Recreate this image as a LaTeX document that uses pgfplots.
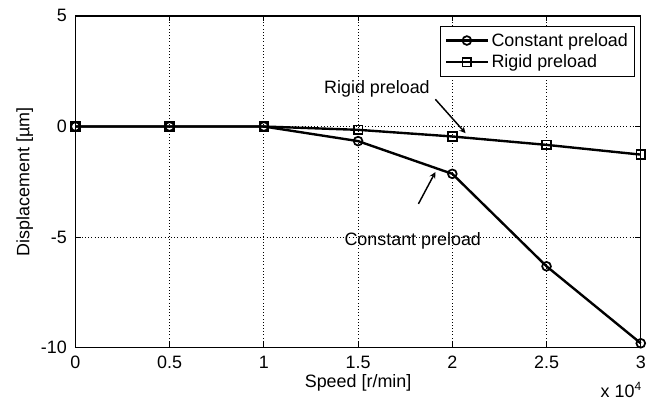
\documentclass[border=0pt]{standalone}
\usepackage{fontspec}
\setmainfont{Liberation Sans}
\usepackage{pgfplots}
\pgfplotsset{compat=1.18}

\begin{document}
\begin{tikzpicture}
\begin{axis}[
    width=426pt, height=250pt,
    scale only axis,
    xmin=0, xmax=3, ymin=-10, ymax=5,
    xtick={0,0.5,1,1.5,2,2.5,3},
    xticklabels={0,0.5,1,1.5,2,2.5,3},
    ytick={-10,-5,0,5},
    grid=major,
    grid style={black, dotted, line width=0.6pt},
    axis line style={line width=0.9pt},
    tick style={black, line width=0.6pt},
    tick align=inside,
    major tick length=4pt,
    xtick pos=both, ytick pos=both,
    /pgf/number format/assume math mode=true,
    ticklabel style={font=\fontsize{13.5}{15}\selectfont},
    xticklabel style={yshift=-3pt},
    yticklabel style={xshift=-3pt},
    label style={font=\fontsize{13.5}{15}\selectfont},
    xlabel={Speed [r/min]},
    ylabel={Displacement [µm]},
    xlabel style={yshift=3pt},
    ylabel style={yshift=-1pt},
    legend style={at={(0.99,0.97)}, anchor=north east, draw=black,
        line width=0.8pt, font=\fontsize{13.5}{15}\selectfont,
        inner sep=3pt, row sep=1pt, cells={anchor=west}},
    legend image code/.code={
        \draw[mark repeat=2, mark phase=2, #1]
            plot coordinates {(0cm,0cm) (0.55cm,0cm) (1.1cm,0cm)};},
    legend cell align=left,
    clip=false,
]
\addplot[black, line width=1.8pt, mark=o, mark size=3.3pt,
    mark options={line width=1.3pt, fill=white}]
coordinates {
    (0,0) (0.5,0) (1,0) (1.5,-0.66) (2,-2.14) (2.5,-6.32) (3,-9.8)
};
\addlegendentry{Constant preload}
\addplot[black, line width=1.8pt, mark=square, mark size=3.3pt,
    mark options={line width=1.3pt, fill=white}]
coordinates {
    (0,0) (0.5,0) (1,0) (1.5,-0.15) (2,-0.45) (2.5,-0.83) (3,-1.27)
};
\addlegendentry{Rigid preload}

\node[font=\fontsize{13.5}{15}\selectfont] at (axis cs:1.60,1.72) {Rigid preload};
\draw[-stealth, line width=1.1pt] (axis cs:1.91,1.23) -- (axis cs:2.07,-0.30);
\node[font=\fontsize{13.5}{15}\selectfont] at (axis cs:1.79,-5.15) {Constant preload};
\draw[-stealth, line width=1.1pt] (axis cs:1.82,-3.5) -- (axis cs:1.91,-2.06);
\node[anchor=north east, font=\fontsize{13.5}{15}\selectfont, inner sep=0pt]
    at ([yshift=-26pt, xshift=1pt]rel axis cs:1,0) {x 10\textsuperscript{\fontsize{9}{10}\selectfont 4}};
\end{axis}
\path ([xshift=16pt,yshift=-42pt]current axis.south east)
      ([yshift=12pt]current axis.north west)
      ([xshift=-9pt]current axis.outer west);
\end{tikzpicture}
\end{document}
